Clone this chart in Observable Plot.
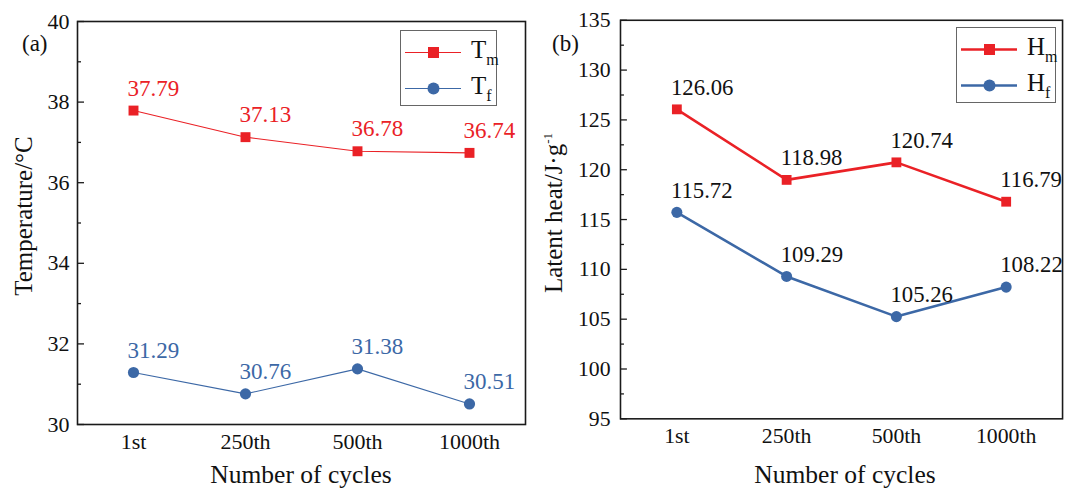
<!DOCTYPE html>
<html><head><meta charset="utf-8">
<script src="https://cdn.jsdelivr.net/npm/d3@7"></script>
<script src="https://cdn.jsdelivr.net/npm/@observablehq/plot@0.6"></script>
<style>
body{margin:0;background:#fff}
#wrap{position:relative;width:1067px;height:492px;overflow:hidden;background:#fff;font-family:'Liberation Serif','DejaVu Serif',serif;color:#111}
.abs{position:absolute;white-space:nowrap}
.ytitle{transform:translate(-50%,-50%) rotate(-90deg);font-size:25px;line-height:1}
.xtitle{transform:translateX(-50%);font-size:25.5px;line-height:1}
.tag{font-size:23px;line-height:1}
.legend{border:1px solid #666;background:#fff;box-sizing:border-box}
.lrow{position:absolute;left:0;display:flex;align-items:center}
.lrow span{font-size:25px;line-height:1}
.lrow sub{font-size:16px;vertical-align:-7px}
sup{font-size:13px;vertical-align:10px}
svg text{font-family:'Liberation Serif','DejaVu Serif',serif}
</style></head><body>
<div id="wrap">
  <div id="pa" class="abs" style="left:0;top:0"></div>
  <div id="pb" class="abs" style="left:530px;top:0"></div>
  <div class="abs tag" style="left:22px;top:32px">(a)</div>
  <div class="abs tag" style="left:552px;top:32px">(b)</div>
  <div class="abs ytitle" style="left:23px;top:216px">Temperature/°C</div>
  <div class="abs ytitle" style="left:553px;top:213px">Latent heat/J·g<sup>-1</sup></div>
  <div class="abs xtitle" style="left:301px;top:462px">Number of cycles</div>
  <div class="abs xtitle" style="left:845px;top:462px">Number of cycles</div>
  <div id="la" class="abs legend" style="left:400px;top:30px;width:97px;height:76px"></div>
  <div id="lb" class="abs legend" style="left:956px;top:27px;width:100px;height:76px"></div>
</div>
<script>
const cycles = ["1st", "250th", "500th", "1000th"];
const Tm = [37.79, 37.13, 36.78, 36.74];
const Tf = [31.29, 30.76, 31.38, 30.51];
const Hm = [126.06, 118.98, 120.74, 116.79];
const Hf = [115.72, 109.29, 105.26, 108.22];
const tempMajor = [30, 32, 34, 36, 38, 40];
const tempMinor = [31, 33, 35, 37, 39];
const heatMajor = [95, 100, 105, 110, 115, 120, 125, 130, 135];
const heatMinor = [97.5, 102.5, 107.5, 112.5, 117.5, 122.5, 127.5, 132.5];
const RED = "#ea2126";
const BLUE = "#3c68a6";
const FONT = "'Liberation Serif','DejaVu Serif',serif";

const rows = vals => cycles.map((c, i) => ({c, v: vals[i]}));

function panel({series, yDomain, major, minor, width, marginLeft, marginTop, marginBottom, lineWidth, tickPad}) {
  const marks = [
    Plot.frame({stroke: "#1a1a1a", strokeWidth: 1.6}),
    Plot.axisY(major, {tickSize: 0, tickPadding: tickPad, fontSize: 22, label: null}),
    Plot.axisY(major, {tickSize: -7, fill: "none", stroke: "#1a1a1a", strokeWidth: 1.3}),
    Plot.axisY(minor, {tickSize: -4, fill: "none", stroke: "#1a1a1a", strokeWidth: 1.3}),
    Plot.axisX({tickSize: 0, tickPadding: 9, fontSize: 22, label: null})
  ];
  for (const s of series) {
    const d = rows(s.values);
    marks.push(Plot.line(d, {x: "c", y: "v", stroke: s.color, strokeWidth: lineWidth}));
    marks.push(Plot.dot(d, {x: "c", y: "v", symbol: s.symbol, r: 5.6, fill: s.color, stroke: "none"}));
    marks.push(Plot.text(d, {x: "c", y: "v", text: r => r.v.toFixed(2), textAnchor: "start", lineAnchor: "bottom", dx: -6, dy: -15, fill: s.textColor, fontSize: 23}));
  }
  return Plot.plot({
    width, height: 492, marginLeft, marginRight: 5, marginTop, marginBottom,
    x: {type: "point", domain: cycles, padding: 0.5},
    y: {domain: yDomain},
    style: {fontFamily: FONT, background: "transparent", color: "#111", overflow: "visible"},
    marks
  });
}

document.getElementById("pa").append(panel({
  series: [
    {values: Tm, color: RED, textColor: RED, symbol: "square"},
    {values: Tf, color: BLUE, textColor: BLUE, symbol: "circle"}
  ],
  yDomain: [30, 40], major: tempMajor, minor: tempMinor,
  width: 530, marginLeft: 77, marginTop: 21, marginBottom: 68, lineWidth: 1.1, tickPad: 8
}));

document.getElementById("pb").append(panel({
  series: [
    {values: Hm, color: RED, textColor: "#111", symbol: "square"},
    {values: Hf, color: BLUE, textColor: "#111", symbol: "circle"}
  ],
  yDomain: [95, 135], major: heatMajor, minor: heatMinor,
  width: 543, marginLeft: 91, marginTop: 20, marginBottom: 69, lineWidth: 2.6, tickPad: 10
}));

function legend(el, items, lw) {
  items.forEach((it, i) => {
    const row = document.createElement("div");
    row.className = "lrow";
    row.style.top = (i === 0 ? 6 : 42) + "px";
    row.style.left = "4px";
    const mk = it.symbol === "square"
      ? `<rect x="23" y="6" width="11" height="11" fill="${it.color}"/>`
      : `<circle cx="28.5" cy="11.5" r="6" fill="${it.color}"/>`;
    row.innerHTML = `<svg width="58" height="23"><line x1="0" x2="56" y1="11.5" y2="11.5" stroke="${it.color}" stroke-width="${lw}"/>${mk}</svg><span style="margin-left:8px">${it.name}<sub>${it.sub}</sub></span>`;
    el.append(row);
  });
}
legend(document.getElementById("la"), [
  {name: "T", sub: "m", color: RED, symbol: "square"},
  {name: "T", sub: "f", color: BLUE, symbol: "circle"}
], 1.1);
legend(document.getElementById("lb"), [
  {name: "H", sub: "m", color: RED, symbol: "square"},
  {name: "H", sub: "f", color: BLUE, symbol: "circle"}
], 2.6);
</script>
</body></html>
